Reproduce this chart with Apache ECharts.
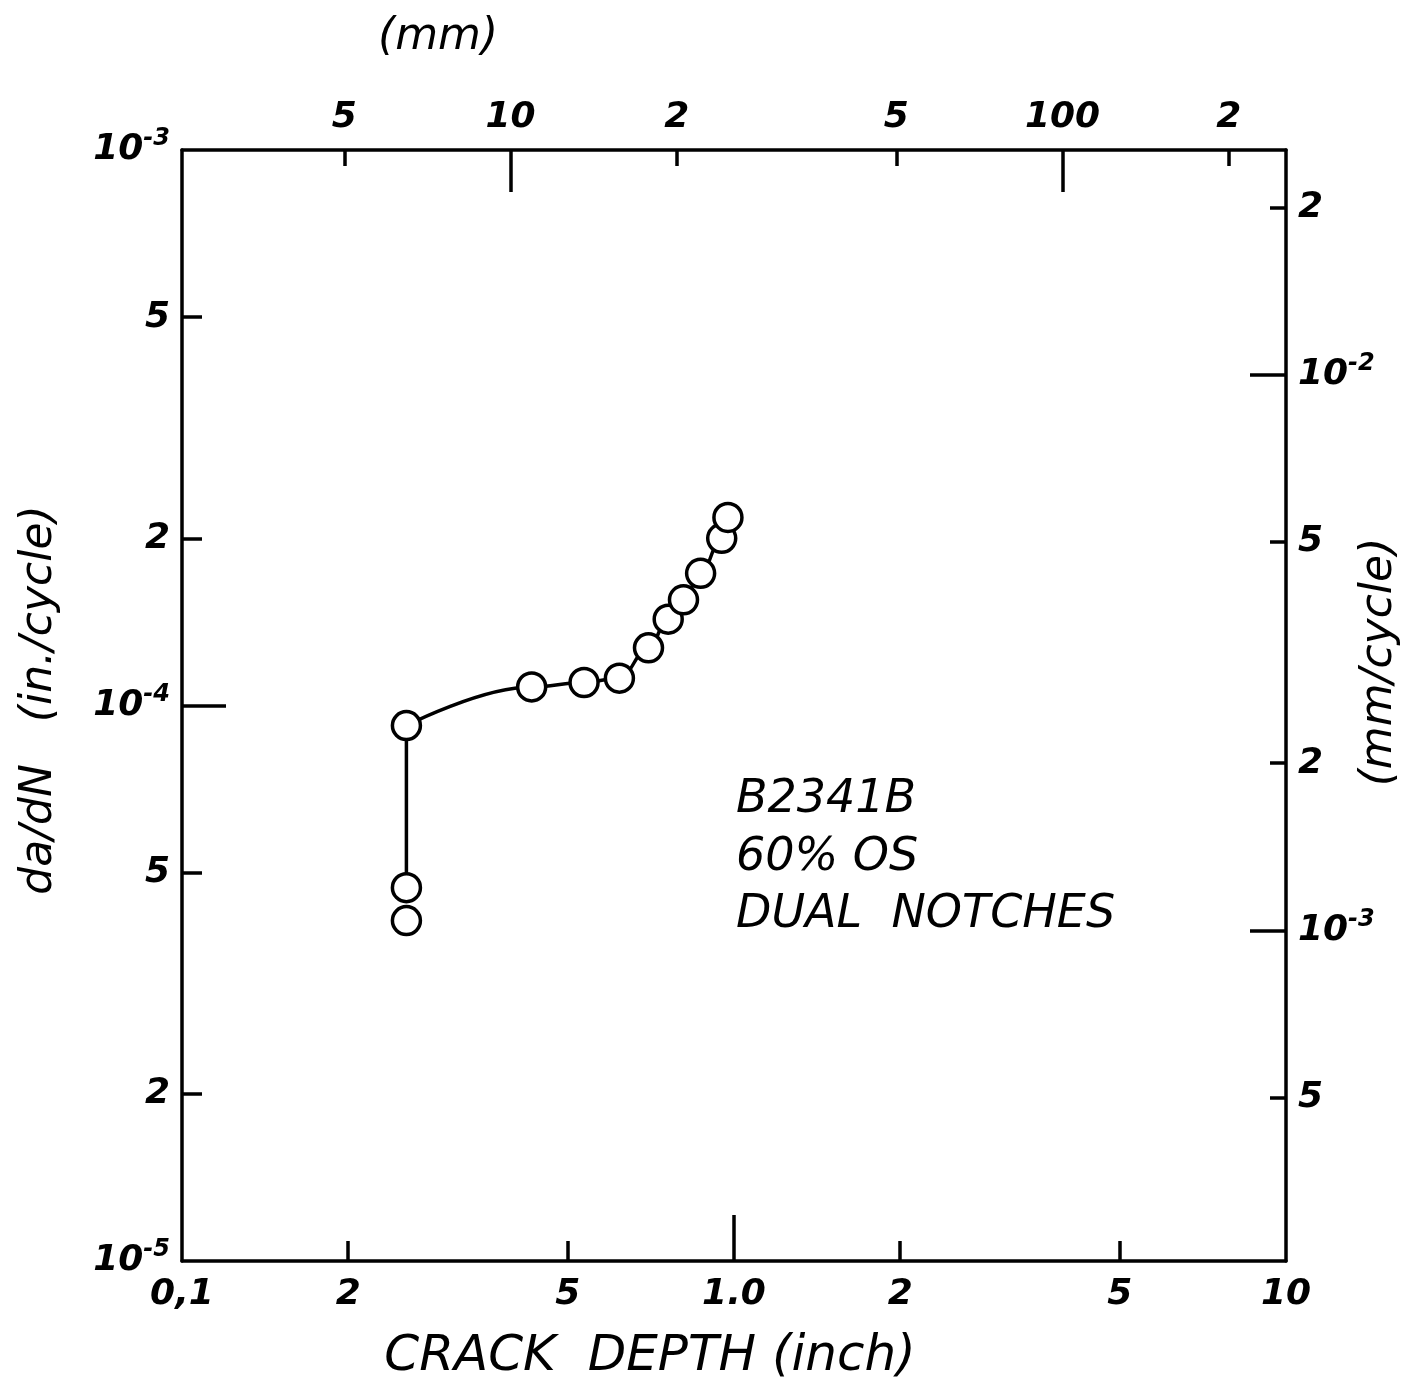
<!DOCTYPE html>
<html>
<head>
<meta charset="utf-8">
<script src="https://cdn.jsdelivr.net/npm/echarts@6/dist/echarts.min.js"></script>
<style>
html,body{margin:0;padding:0;background:#fff;}
#chart{width:1416px;height:1395px;}
</style>
</head>
<body>
<div id="chart"></div>
<script>
// ---- data ----
const crackDepth = [0.255, 0.43, 0.535, 0.62, 0.70, 0.76, 0.81, 0.87, 0.95, 0.975];
const growthRate = [9.2e-5, 1.08e-4, 1.10e-4, 1.12e-4, 1.27e-4, 1.43e-4, 1.55e-4, 1.73e-4, 2.0e-4, 2.18e-4];
const lowDepth = [0.255, 0.255];
const lowRate = [4.7e-5, 4.1e-5];

// tick values and labels
const bottomTicks = [0.1, 0.2, 0.5, 1, 2, 5, 10];
const bottomLabels = ['0,1', '2', '5', '1.0', '2', '5', '10'];
const topTicks = [5, 10, 20, 50, 100, 200];
const topLabels = ['5', '10', '2', '5', '100', '2'];
const leftTicks = [1e-5, 2e-5, 5e-5, 1e-4, 2e-4, 5e-4, 1e-3];
const leftLabels = ['10^-5', '2', '5', '10^-4', '2', '5', '10^-3'];
const rightTicks = [5e-4, 1e-3, 2e-3, 5e-3, 1e-2, 2e-2];
const rightLabels = ['5', '10^-3', '2', '5', '10^-2', '2'];

const annotation = ['B2341B', '60% OS', 'DUAL  NOTCHES'];

function labeler(ticks, labels) {
  return function (v) {
    let best = 0, bd = Infinity;
    for (let i = 0; i < ticks.length; i++) {
      const d = Math.abs(Math.log10(v) - Math.log10(ticks[i]));
      if (d < bd) { bd = d; best = i; }
    }
    const s = labels[best];
    if (s.indexOf('^') >= 0) {
      const p = s.split('^');
      return '{b|' + p[0] + '}{s|' + p[1] + '}';
    }
    return '{b|' + s + '}';
  };
}

const FONT = 'DejaVu Sans';
const rich = {
  b: {fontSize: 36, fontStyle: 'italic', fontFamily: FONT, color: '#000', fontWeight: 'bold'},
  s: {fontSize: 24, fontStyle: 'italic', fontFamily: FONT, color: '#000', fontWeight: 'bold', padding: [0, 0, 22, 0]}
};
const lineStyle = {color: '#000', width: 3.5};

const chart = echarts.init(document.getElementById('chart'));
chart.setOption({
  animation: false,
  backgroundColor: '#fff',
  grid: {left: 182, right: 130, top: 150, bottom: 134},
  xAxis: [
    { type: 'log', logBase: 10, min: 0.1, max: 10, position: 'bottom',
      axisLine: {show: true, lineStyle: lineStyle},
      axisTick: {show: true, inside: true, length: 20, lineStyle: lineStyle, customValues: bottomTicks.slice(1, -1)},
      axisLabel: {margin: 16, customValues: bottomTicks, formatter: labeler(bottomTicks, bottomLabels), rich: rich},
      splitLine: {show: false}, minorTick: {show: false} },
    { type: 'log', logBase: 10, min: 2.54, max: 254, position: 'top',
      axisLine: {show: true, lineStyle: lineStyle},
      axisTick: {show: true, inside: true, length: 16, lineStyle: lineStyle, customValues: topTicks},
      axisLabel: {margin: 14, customValues: topTicks, formatter: labeler(topTicks, topLabels), rich: rich},
      splitLine: {show: false} },
    { type: 'log', logBase: 10, min: 0.1, max: 10, position: 'bottom',
      axisLine: {show: false},
      axisTick: {show: true, inside: true, length: 46, lineStyle: lineStyle, customValues: [1]},
      axisLabel: {show: false}, splitLine: {show: false} },
    { type: 'log', logBase: 10, min: 2.54, max: 254, position: 'top',
      axisLine: {show: false},
      axisTick: {show: true, inside: true, length: 42, lineStyle: lineStyle, customValues: [10, 100]},
      axisLabel: {show: false}, splitLine: {show: false} }
  ],
  yAxis: [
    { type: 'log', logBase: 10, min: 1e-5, max: 1e-3, position: 'left',
      axisLine: {show: true, lineStyle: lineStyle},
      axisTick: {show: true, inside: true, length: 20, lineStyle: lineStyle, customValues: [2e-5, 5e-5, 2e-4, 5e-4]},
      axisLabel: {margin: 12, customValues: leftTicks, formatter: labeler(leftTicks, leftLabels), rich: rich},
      splitLine: {show: false} },
    { type: 'log', logBase: 10, min: 2.54e-4, max: 2.54e-2, position: 'right',
      axisLine: {show: true, lineStyle: lineStyle},
      axisTick: {show: true, inside: true, length: 16, lineStyle: lineStyle, customValues: [5e-4, 2e-3, 5e-3, 2e-2]},
      axisLabel: {margin: 12, customValues: rightTicks, formatter: labeler(rightTicks, rightLabels), rich: rich},
      splitLine: {show: false} },
    { type: 'log', logBase: 10, min: 1e-5, max: 1e-3, position: 'left',
      axisLine: {show: false},
      axisTick: {show: true, inside: true, length: 44, lineStyle: lineStyle, customValues: [1e-4]},
      axisLabel: {show: false}, splitLine: {show: false} },
    { type: 'log', logBase: 10, min: 2.54e-4, max: 2.54e-2, position: 'right',
      axisLine: {show: false},
      axisTick: {show: true, inside: true, length: 36, lineStyle: lineStyle, customValues: [1e-3, 1e-2]},
      axisLabel: {show: false}, splitLine: {show: false} }
  ],
  series: [
    { type: 'line', xAxisIndex: 0, yAxisIndex: 0, showSymbol: false, smooth: false,
      data: [[lowDepth[0], lowRate[0]], [crackDepth[0], growthRate[0]]],
      lineStyle: {color: '#000', width: 3.5, opacity: 1}, z: 2 },
    { type: 'line', xAxisIndex: 0, yAxisIndex: 0, showSymbol: false, smooth: 0.4, smoothMonotone: 'x',
      data: crackDepth.map((x, i) => [x, growthRate[i]]),
      lineStyle: {color: '#000', width: 3.5, opacity: 1}, z: 2 },
    { type: 'scatter', xAxisIndex: 0, yAxisIndex: 0, symbol: 'circle', symbolSize: 28,
      data: crackDepth.map((x, i) => [x, growthRate[i]]).concat(lowDepth.map((x, i) => [x, lowRate[i]])),
      itemStyle: {color: '#fff', borderColor: '#000', borderWidth: 3.5, opacity: 1}, z: 3 }
  ],
  graphic: [
    {type: 'text', left: 378, top: 16, style: {text: '(mm)', font: 'italic 44px "DejaVu Sans"', fill: '#000'}},
    {type: 'text', x: 40, y: 700, rotation: Math.PI / 2,
     style: {text: 'da/dN   (in./cycle)', font: 'italic 44px "DejaVu Sans"', fill: '#000', align: 'center', verticalAlign: 'middle'}},
    {type: 'text', x: 1380, y: 662, rotation: Math.PI / 2,
     style: {text: '(mm/cycle)', font: 'italic 44px "DejaVu Sans"', fill: '#000', align: 'center', verticalAlign: 'middle'}},
    {type: 'text', x: 650, y: 1357,
     style: {text: 'CRACK  DEPTH (inch)', font: 'italic 50px "DejaVu Sans"', fill: '#000', align: 'center', verticalAlign: 'middle'}},
    {type: 'text', x: 736, y: 800,
     style: {text: annotation[0], font: 'italic 46px "DejaVu Sans"', fill: '#000', verticalAlign: 'middle'}},
    {type: 'text', x: 736, y: 858,
     style: {text: annotation[1], font: 'italic 46px "DejaVu Sans"', fill: '#000', verticalAlign: 'middle'}},
    {type: 'text', x: 736, y: 915,
     style: {text: annotation[2], font: 'italic 46px "DejaVu Sans"', fill: '#000', verticalAlign: 'middle'}}
  ]
});
</script>
</body>
</html>
